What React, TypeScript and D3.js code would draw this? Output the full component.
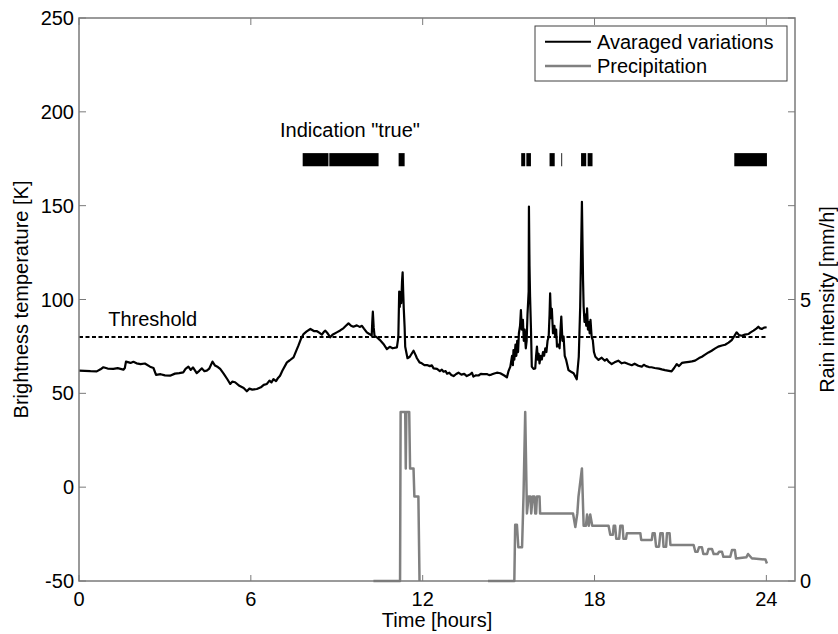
import React from 'react'
import * as d3 from 'd3'

// time axis ticks (hours) and left / right axis ticks
const hourTicks = [0, 6, 12, 18, 24]
const tempTicks = [-50, 0, 50, 100, 150, 200, 250]
const rainTicks = [0, 5 / 3, 10 / 3, 5, 20 / 3, 25 / 3, 10]
const rainTickLabels = ['0', '', '', '5', '', '', '']

const threshold = 80

// averaged variations of brightness temperature [K]
const varHours = [
  0.0, 0.2, 0.4, 0.62, 0.75, 0.85, 1.0, 1.2, 1.35, 1.55, 1.6, 1.64, 1.8, 1.9, 2.01, 2.15, 2.3, 2.48, 2.6, 2.69,
  2.85, 3.0, 3.18, 3.35, 3.5, 3.64, 3.72, 3.82, 3.9, 3.98, 4.11, 4.2, 4.29, 4.38, 4.46, 4.55, 4.66, 4.75, 4.85, 4.93,
  5.05, 5.18, 5.28, 5.35, 5.45, 5.6, 5.75, 5.86, 5.95, 6.05, 6.21, 6.35, 6.45, 6.56, 6.65, 6.72, 6.79, 6.88, 6.95, 7.02,
  7.1, 7.26, 7.35, 7.49, 7.58, 7.66, 7.75, 7.84, 7.95, 8.08, 8.2, 8.31, 8.4, 8.48, 8.55, 8.6, 8.68, 8.77, 8.85, 9.0,
  9.12, 9.24, 9.32, 9.41, 9.5, 9.58, 9.7, 9.8, 9.88, 9.95, 10.05, 10.15, 10.22, 10.24, 10.26, 10.29, 10.32, 10.4, 10.5, 10.63,
  10.75, 10.85, 10.95, 11.1, 11.15, 11.18, 11.2, 11.22, 11.25, 11.28, 11.3, 11.32, 11.34, 11.37, 11.39, 11.47, 11.55, 11.68, 11.75, 11.8,
  11.89, 11.97, 12.06, 12.15, 12.25, 12.32, 12.38, 12.5, 12.6, 12.67, 12.73, 12.8, 12.85, 12.93, 13.0, 13.08, 13.17, 13.25, 13.35, 13.45,
  13.54, 13.65, 13.72, 13.77, 13.86, 13.95, 14.03, 14.1, 14.24, 14.32, 14.4, 14.5, 14.59, 14.71, 14.85, 14.94,
  15.0, 15.06, 15.12, 15.15, 15.17, 15.2, 15.24, 15.27, 15.3, 15.33, 15.36, 15.4, 15.43, 15.46, 15.5, 15.53, 15.56, 15.6, 15.63, 15.66,
  15.7, 15.71, 15.73, 15.75, 15.78, 15.81, 15.87, 15.93, 15.96, 15.99, 16.02, 16.05, 16.08, 16.12, 16.16, 16.2, 16.24, 16.28, 16.32, 16.36,
  16.4, 16.43, 16.45, 16.48, 16.51, 16.55, 16.6, 16.63, 16.66, 16.69, 16.74, 16.78, 16.82, 16.84, 16.88, 16.92, 16.96, 17.01, 17.09, 17.18,
  17.27, 17.38, 17.45, 17.5, 17.56, 17.6, 17.62, 17.65, 17.68, 17.71, 17.74, 17.77, 17.8, 17.83, 17.86, 17.9, 17.94, 17.98, 18.03, 18.14,
  18.25, 18.36, 18.43, 18.49, 18.6, 18.7, 18.83, 18.95, 19.05, 19.18, 19.3, 19.4, 19.53, 19.65, 19.72, 19.8, 19.9, 19.99, 20.1, 20.25,
  20.35, 20.46, 20.6, 20.69, 20.78, 20.87, 20.95, 21.05, 21.16, 21.3, 21.4, 21.51, 21.65, 21.75, 21.86, 21.98, 22.09, 22.2, 22.32, 22.45,
  22.56, 22.68, 22.79, 22.88, 22.96, 23.05, 23.14, 23.25, 23.37, 23.45, 23.55, 23.65, 23.72, 23.78, 23.84, 23.92, 24.01,
]
const varTemp = [
  62.1, 62.0, 61.8, 61.7, 62.8, 63.9, 63.2, 63.0, 63.4, 62.6, 63.5, 66.9, 66.2, 66.8, 66.0, 65.6, 65.9, 64.2, 63.5, 59.8,
  60.2, 59.6, 59.4, 60.5, 60.8, 61.2, 63.0, 64.2, 62.5, 63.8, 60.8, 62.0, 63.3, 61.8, 62.1, 63.2, 66.9, 64.8, 64.0, 63.0,
  60.5, 57.5, 55.0, 56.2, 55.9, 54.0, 52.8, 51.1, 52.5, 52.0, 52.3, 53.2, 54.5, 55.0, 56.8, 55.8, 57.6, 56.5, 58.2, 59.4,
  62.0, 66.5, 67.5, 69.2, 72.5, 75.4, 79.0, 81.6, 83.0, 84.3, 83.2, 83.1, 82.2, 81.3, 82.8, 83.4, 82.0, 79.9, 81.2, 82.5,
  83.5, 84.8, 86.0, 87.3, 86.0, 85.5, 86.2, 85.4, 86.0, 84.5, 82.5, 81.5, 80.7, 88.0, 93.5, 85.0, 80.5, 79.9, 78.5, 76.3,
  73.6, 74.8, 74.0, 74.5, 80.0, 104.2, 96.0, 104.0, 98.0, 110.0, 114.5, 104.0, 95.0, 85.0, 74.8, 68.7, 69.5, 72.7, 70.5, 68.7,
  66.5, 66.0, 65.0, 65.1, 64.5, 64.9, 63.3, 63.0, 61.8, 62.6, 61.5, 61.9, 60.5, 61.0, 59.8, 59.2, 60.3, 61.0, 60.0, 60.4,
  59.2, 60.0, 61.0, 58.9, 59.6, 59.5, 60.4, 60.2, 60.3, 59.7, 60.0, 60.6, 61.0, 60.7, 59.5, 58.5,
  62.0, 64.2, 70.0, 65.0, 73.1, 68.0, 76.0, 70.0, 78.0, 72.0, 82.0, 86.0, 94.4, 84.0, 89.1, 78.0, 84.0, 74.0, 78.0, 92.0,
  104.2, 149.5, 118.0, 101.5, 85.0, 64.2, 63.0, 63.3, 70.0, 74.9, 68.0, 71.0, 66.0, 70.0, 68.0, 72.0, 70.0, 74.0, 72.0, 78.0,
  80.2, 92.0, 103.3, 90.0, 95.0, 82.0, 86.0, 80.0, 84.0, 74.9, 76.0, 74.0, 86.0, 90.9, 78.0, 80.2, 70.0, 67.8, 62.4, 61.5,
  60.7, 57.5, 69.5, 96.2, 152.1, 110.0, 96.2, 88.0, 92.0, 86.0, 95.3, 84.0, 88.0, 82.0, 89.1, 80.0, 78.4, 72.0, 69.5, 67.8,
  69.0, 67.4, 68.2, 66.9, 65.6, 66.5, 67.4, 66.0, 66.4, 65.6, 65.0, 65.8, 64.7, 64.2, 65.2, 64.5, 64.0, 63.9, 63.5, 63.2,
  62.8, 62.4, 62.0, 61.7, 63.5, 65.6, 64.5, 66.2, 66.5, 66.8, 67.0, 67.4, 68.8, 69.5, 70.6, 71.8, 72.7, 73.8, 74.9, 75.5,
  75.9, 77.0, 78.4, 80.5, 82.5, 81.0, 80.7, 81.3, 81.6, 82.5, 83.4, 84.5, 85.5, 84.6, 84.3, 85.0, 85.2,
]

// precipitation [mm/h]; null marks a gap in the record
const rainHours = [
  10.28, 11.21, 11.23, 11.39, 11.41, 11.43, 11.53, 11.56, 11.68, 11.71, 11.85, 11.89, 11.9,
  14.28, 15.2, 15.23, 15.29, 15.34, 15.47, 15.52, 15.58, 15.64, 15.7, 15.76, 15.79, 15.84, 15.9, 15.93, 15.96,
  15.99, 16.08, 16.1, 17.25, 17.33, 17.4, 17.44, 17.56, 17.62, 17.7, 17.74, 17.8, 17.85, 17.92, 18.49, 18.55,
  18.64, 18.67, 18.72, 18.76, 18.86, 18.9, 18.98, 19.01, 19.1, 19.13, 19.6, 19.63, 20.0, 20.03, 20.1, 20.15,
  20.25, 20.3, 20.38, 20.41, 20.5, 20.53, 20.62, 20.65, 21.46, 21.52, 21.6, 21.65, 21.75, 21.8, 21.93, 21.98,
  22.1, 22.16, 22.3, 22.35, 22.45, 22.5, 22.74, 22.8, 22.9, 22.94, 23.3, 23.36, 23.5, 23.56, 23.97, 24.02,
]
const rainValues = [
  0, 0, 3.0, 3.0, 2.0, 3.0, 3.0, 2.0, 2.0, 1.5, 1.5, 0, null,
  0, 0, 1.0, 1.0, 0.6, 0.6, 1.5, 3.0, 1.2, 1.5, 1.5, 1.2, 1.5, 1.5, 1.2, 1.2,
  1.5, 1.5, 1.2, 1.2, 0.96, 1.2, 1.5, 2.0, 0.98, 0.98, 1.18, 0.98, 1.18, 0.98, 0.98, 0.82,
  0.82, 0.98, 0.98, 0.75, 0.75, 0.98, 0.98, 0.75, 0.75, 0.85, 0.85, 0.73, 0.73, 0.85, 0.85, 0.61,
  0.61, 0.85, 0.85, 0.61, 0.61, 0.85, 0.85, 0.64, 0.64, 0.52, 0.52, 0.6, 0.6, 0.48, 0.48, 0.57,
  0.57, 0.48, 0.48, 0.52, 0.52, 0.43, 0.43, 0.55, 0.55, 0.4, 0.42, 0.48, 0.4, 0.4, 0.38, 0.31,
]

// periods where indication is "true" [hours]
const indicationStart = [7.81, 8.74, 11.16, 15.44, 15.62, 16.43, 16.84, 17.53, 17.76, 22.88]
const indicationEnd = [8.71, 10.46, 11.37, 15.58, 15.78, 16.61, 16.87, 17.71, 17.93, 24.02]

const W = 838
const H = 634
const left = 79
const right = 795
const top = 18
const bottom = 581

const axisColor = '#7a7a7a'
const font = '"Liberation Sans", Arial, Helvetica, sans-serif'

export default function App() {
  const x = d3.scaleLinear().domain([0, 25]).range([left, right])
  const y = d3.scaleLinear().domain([-50, 250]).range([bottom, top])
  const yRain = d3.scaleLinear().domain([0, 10]).range([bottom, top])

  const varLine = d3.line<number>()
    .x((d, i) => x(varHours[i]))
    .y(d => y(d))

  const rainLine = d3.line<number | null>()
    .defined(d => d !== null)
    .x((d, i) => x(rainHours[i]))
    .y(d => yRain(d as number))

  const tick = 7

  return (
    <svg width={W} height={H} style={{ position: 'absolute', left: 0, top: 0, background: '#fff' }}
      fontFamily={font} fontSize={20}>
      <rect x={0} y={0} width={W} height={H} fill="#fff" />

      {/* indication bars */}
      {indicationStart.map((s, i) => (
        <rect key={'ind' + i} x={x(s)} y={y(178)} width={x(indicationEnd[i]) - x(s)}
          height={y(171) - y(178)} fill="#000" />
      ))}
      <text x={x(7.02)} y={y(186.6)} fill="#000">Indication "true"</text>

      {/* threshold */}
      <line x1={x(0)} x2={x(24)} y1={y(threshold)} y2={y(threshold)}
        stroke="#000" strokeWidth={2} strokeDasharray="4,2.5" />
      <text x={x(1.02)} y={y(85.9)} fill="#000">Threshold</text>

      {/* series */}
      <path d={rainLine(rainValues) || ''} fill="none" stroke="#808080" strokeWidth={2.5} strokeLinejoin="round" />
      <path d={varLine(varTemp) || ''} fill="none" stroke="#000" strokeWidth={2.2} strokeLinejoin="round" />

      {/* box */}
      <rect x={left} y={top} width={right - left} height={bottom - top} fill="none" stroke={axisColor} strokeWidth={1.5} />

      {/* x ticks */}
      {hourTicks.map(h => (
        <g key={'x' + h}>
          <line x1={x(h)} x2={x(h)} y1={bottom} y2={bottom - tick + 1} stroke={axisColor} />
          <line x1={x(h)} x2={x(h)} y1={top} y2={top + tick} stroke={axisColor} />
          <text x={x(h)} y={606} textAnchor="middle" fill="#000">{h}</text>
        </g>
      ))}

      {/* left ticks */}
      {tempTicks.map(t => (
        <g key={'y' + t}>
          <line x1={left} x2={left + tick} y1={y(t)} y2={y(t)} stroke={axisColor} />
          <text x={left - 5} y={y(t)} dy="0.35em" textAnchor="end" fill="#000">{t}</text>
        </g>
      ))}

      {/* right ticks */}
      {rainTicks.map((r, i) => (
        <g key={'r' + i}>
          <line x1={right} x2={right - tick} y1={yRain(r)} y2={yRain(r)} stroke={axisColor} />
          {rainTickLabels[i] && (
            <text x={right + 5} y={yRain(r)} dy="0.35em" textAnchor="start" fill="#000">{rainTickLabels[i]}</text>
          )}
        </g>
      ))}

      {/* axis titles */}
      <text x={(left + right) / 2} y={627} textAnchor="middle" fill="#000">Time [hours]</text>
      <text transform={`translate(28,${(top + bottom) / 2}) rotate(-90)`} textAnchor="middle" fill="#000">
        Brightness temperature [K]
      </text>
      <text transform={`translate(834,${(top + bottom) / 2}) rotate(-90)`} textAnchor="middle" fill="#000">
        Rain intensity [mm/h]
      </text>

      {/* legend */}
      <g>
        <rect x={535} y={26} width={252} height={55} fill="#fff" stroke="#404040" strokeWidth={1} />
        <line x1={545} x2={591} y1={41.7} y2={41.7} stroke="#000" strokeWidth={2} />
        <text x={597} y={41.7} dy="0.35em" fill="#000">Avaraged variations</text>
        <line x1={545} x2={591} y1={66} y2={66} stroke="#808080" strokeWidth={2.5} />
        <text x={597} y={66} dy="0.35em" fill="#000">Precipitation</text>
      </g>
    </svg>
  )
}
